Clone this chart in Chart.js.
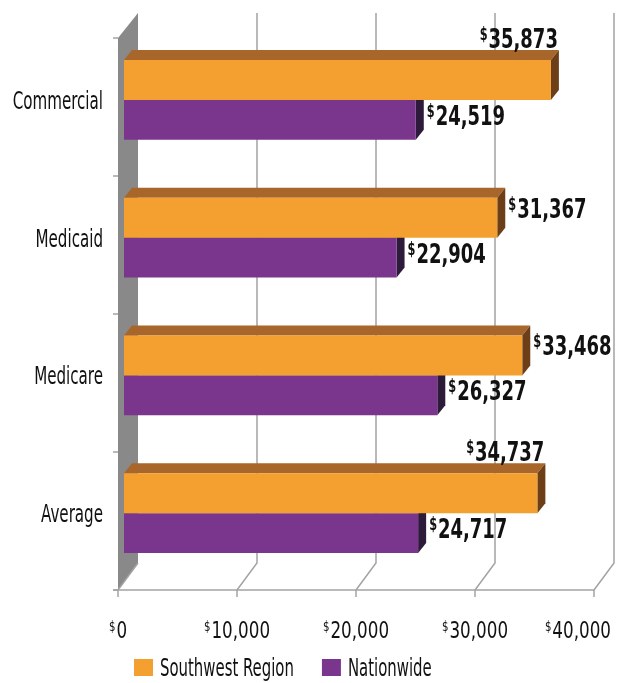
<!DOCTYPE html>
<html>
<head>
<meta charset="utf-8">
<script src="https://cdn.jsdelivr.net/npm/chart.js@4.4.0/dist/chart.umd.min.js"></script>
<style>
  html, body { margin: 0; padding: 0; background: #fff; }
</style>
</head>
<body>
<canvas id="costChart" width="624" height="683"></canvas>
<script>
// datos
const categorias = ['Commercial', 'Medicaid', 'Medicare', 'Average'];
const southwest = [35873, 31367, 33468, 34737];
const nationwide = [24519, 22904, 26327, 24717];
const ticksX = [0, 10000, 20000, 30000, 40000];
const series = ['Southwest Region', 'Nationwide'];

const FONT = "'DejaVu Sans Condensed', 'DejaVu Sans', sans-serif";
const colores = [
    { front: '#f4a030', top: '#a9662a', side: '#6d3f18' },
    { front: '#7a368d', top: '#4e2360', side: '#2e1a3b' }
];
const D = { x: 8, y: -10 };   // profundidad de las barras

// texto comprimido horizontalmente (fuente condensada)
function texto(ctx, str, x, y, font, k, align) {
    ctx.font = font;
    const w = ctx.measureText(str).width * k;
    let sx = x;
    if (align === 'right') sx = x - w;
    if (align === 'center') sx = x - w / 2;
    ctx.save();
    ctx.translate(sx, y);
    ctx.scale(k, 1);
    ctx.textAlign = 'left';
    ctx.textBaseline = 'alphabetic';
    ctx.fillText(str, 0, 0);
    ctx.restore();
    return w;
}

// escribe "$" en superindice y el numero
function dibujarMonto(ctx, valor, x, y, size, bold, k, align, maxRight) {
    const num = valor.toLocaleString('en-US');
    const peso = bold ? 'bold ' : '';
    const small = peso + Math.round(size * 0.62) + 'px ' + FONT;
    const big = peso + size + 'px ' + FONT;
    ctx.font = small;
    const w1 = ctx.measureText('$').width * k;
    ctx.font = big;
    const w2 = ctx.measureText(num).width * k;
    const total = w1 + 1 + w2;
    let sx = x;
    if (align === 'right') sx = x - total;
    if (align === 'center') sx = x - total / 2;
    if (maxRight && sx + total > maxRight) sx = maxRight - total;
    ctx.fillStyle = '#111';
    texto(ctx, '$', sx, y - size * 0.3, small, k, 'left');
    texto(ctx, num, sx + w1 + 1, y, big, k, 'left');
    return total;
}

const efecto3D = {
    id: 'efecto3D',
    beforeDatasetsDraw(chart) {
        const ctx = chart.ctx;
        const area = chart.chartArea;
        const xs = chart.scales.x;
        const frontX = v => xs.getPixelForValue(v) - 6;
        const backX = v => xs.getPixelForValue(v) + 14;
        const frontTop = area.top + 7, frontBottom = area.bottom + 8;
        const backTop = area.top - 18, backBottom = area.bottom - 19;

        ctx.save();
        // pared gris
        ctx.fillStyle = '#898989';
        ctx.beginPath();
        ctx.moveTo(frontX(0), frontTop);
        ctx.lineTo(backX(0), backTop);
        ctx.lineTo(backX(0), backBottom);
        ctx.lineTo(frontX(0), frontBottom);
        ctx.closePath();
        ctx.fill();

        // lineas de la cuadricula
        ctx.strokeStyle = '#a3a3a3';
        ctx.lineWidth = 1.5;
        ticksX.forEach((v, i) => {
            ctx.beginPath();
            if (i > 0) {
                ctx.moveTo(backX(v), backTop);
                ctx.lineTo(backX(v), backBottom);
            } else {
                ctx.moveTo(backX(v), backBottom);
            }
            ctx.lineTo(frontX(v), frontBottom);
            ctx.stroke();
            ctx.beginPath();
            ctx.moveTo(frontX(v), frontBottom);
            ctx.lineTo(frontX(v), frontBottom + 7);
            ctx.stroke();
        });
        // eje horizontal
        ctx.beginPath();
        ctx.moveTo(frontX(0) - 5, frontBottom);
        ctx.lineTo(frontX(ticksX[ticksX.length - 1]), frontBottom);
        ctx.stroke();
        // marcas del eje vertical
        const paso = (frontBottom - frontTop) / categorias.length;
        for (let i = 0; i <= categorias.length; i++) {
            const yy = frontTop + paso * i;
            ctx.beginPath();
            ctx.moveTo(frontX(0) - 5, yy);
            ctx.lineTo(frontX(0), yy);
            ctx.stroke();
        }

        // caras superior y lateral de las barras (nationwide primero)
        [1, 0].forEach(di => {
            const meta = chart.getDatasetMeta(di);
            meta.data.forEach(bar => {
                const { x, y, base, height } = bar.getProps(['x', 'y', 'base', 'height'], true);
                const top = y - height / 2, bottom = y + height / 2;
                ctx.fillStyle = colores[di].top;
                ctx.beginPath();
                ctx.moveTo(base, top);
                ctx.lineTo(base + D.x, top + D.y);
                ctx.lineTo(x + D.x, top + D.y);
                ctx.lineTo(x, top);
                ctx.closePath();
                ctx.fill();
                ctx.fillStyle = colores[di].side;
                ctx.beginPath();
                ctx.moveTo(x, top);
                ctx.lineTo(x + D.x, top + D.y);
                ctx.lineTo(x + D.x, bottom + D.y);
                ctx.lineTo(x, bottom);
                ctx.closePath();
                ctx.fill();
            });
        });
        ctx.restore();
    },
    afterDatasetsDraw(chart) {
        const ctx = chart.ctx;
        const area = chart.chartArea;
        const xs = chart.scales.x;
        const ys = chart.scales.y;
        ctx.save();

        // etiquetas de valores
        [0, 1].forEach(di => {
            const meta = chart.getDatasetMeta(di);
            const valores = chart.data.datasets[di].data;
            meta.data.forEach((bar, i) => {
                const { x, y, height } = bar.getProps(['x', 'y', 'height'], true);
                const top = y - height / 2;
                const startX = x + D.x + 3;
                ctx.font = 'bold 27px ' + FONT;
                const ancho = ctx.measureText(valores[i].toLocaleString('en-US')).width * 0.74 + 12;
                if (startX + ancho > chart.width - 8) {
                    dibujarMonto(ctx, valores[i], x + D.x - 1, top + D.y - 2, 27, true, 0.74, 'right');
                } else {
                    dibujarMonto(ctx, valores[i], startX, top + (di === 0 ? 20 : 25), 27, true, 0.74, 'left');
                }
            });
        });

        // etiquetas de categorias
        ctx.fillStyle = '#111';
        categorias.forEach((cat, i) => {
            texto(ctx, cat, area.left - 21, ys.getPixelForValue(i) + 9, '24px ' + FONT, 0.7, 'right');
        });

        // etiquetas del eje x
        ticksX.forEach(v => {
            dibujarMonto(ctx, v, xs.getPixelForValue(v) - 6, 638, 23, false, 0.81, 'center', 611);
        });

        // leyenda
        let lx = 134;
        series.forEach((nombre, di) => {
            ctx.fillStyle = colores[di].front;
            ctx.fillRect(lx, 659, 19, 17);
            ctx.fillStyle = '#111';
            const w = texto(ctx, nombre, lx + 26, 676, '24px ' + FONT, 0.69, 'left');
            lx += 26 + w + 28;
        });
        ctx.restore();
    }
};

const ctx = document.getElementById('costChart').getContext('2d');
new Chart(ctx, {
    type: 'bar',
    data: {
        labels: categorias,
        datasets: [{
            label: series[0],
            data: southwest,
            backgroundColor: colores[0].front,
            borderWidth: 0
        }, {
            label: series[1],
            data: nationwide,
            backgroundColor: colores[1].front,
            borderWidth: 0
        }]
    },
    options: {
        indexAxis: 'y',
        responsive: false,
        animation: false,
        categoryPercentage: 0.58,
        barPercentage: 1.0,
        layout: {
            padding: { top: 31, bottom: 101, left: 0, right: 24 }
        },
        scales: {
            x: {
                display: false,
                min: 0,
                max: 40000
            },
            y: {
                grid: { display: false },
                border: { display: false },
                ticks: { display: false },
                afterFit: scale => { scale.width = 124; }
            }
        },
        plugins: {
            legend: { display: false },
            tooltip: { enabled: false }
        }
    },
    plugins: [efecto3D]
});
</script>
</body>
</html>
